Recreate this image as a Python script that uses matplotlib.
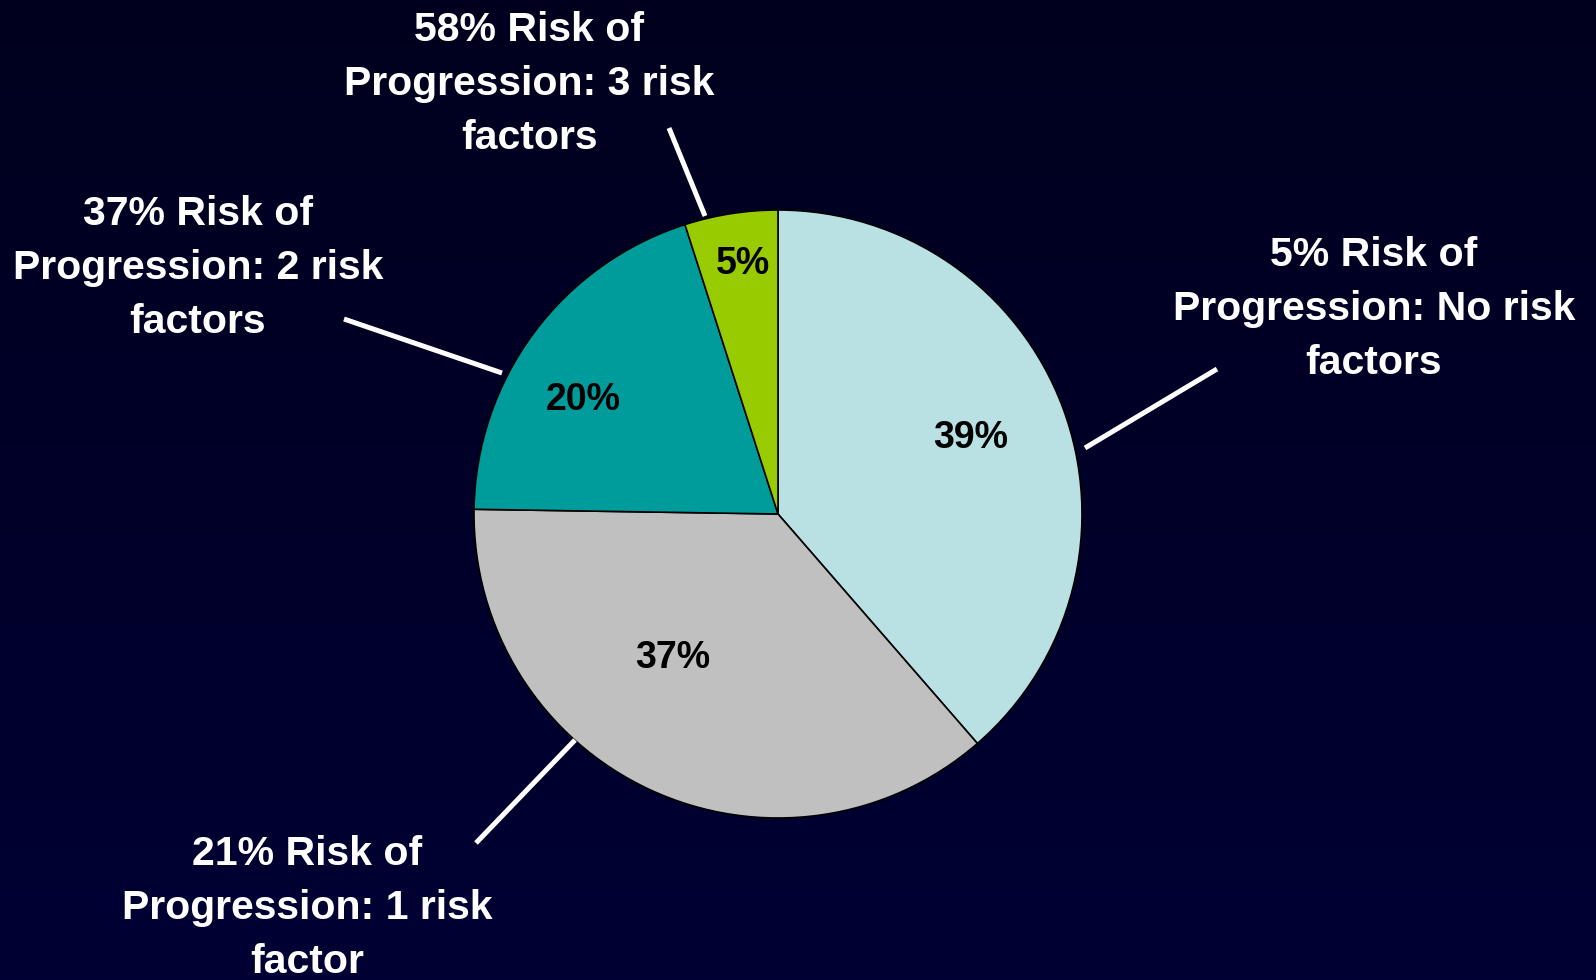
import numpy as np
import matplotlib
matplotlib.use("Agg")
import matplotlib.pyplot as plt
from matplotlib.colors import LinearSegmentedColormap

# Share of patients by number of risk factors
categories = ["No risk factors", "1 risk factor", "2 risk factors", "3 risk factors"]
shares = [39, 37, 20, 5]
slice_colors = ["#B9E0E3", "#C0C0C0", "#009B9B", "#99CC00"]

# Risk of progression for each group
risk_labels = [
    "5% Risk of\nProgression: No risk\nfactors",
    "21% Risk of\nProgression: 1 risk\nfactor",
    "37% Risk of\nProgression: 2 risk\nfactors",
    "58% Risk of\nProgression: 3 risk\nfactors",
]

W, H = 1596, 980
fig = plt.figure(figsize=(W / 100, H / 100), dpi=100)
ax = fig.add_axes([0, 0, 1, 1])

# dark navy backdrop, slightly lighter towards the bottom
bg = LinearSegmentedColormap.from_list("bg", ["#00001E", "#000034"])
grad = np.linspace(0, 1, 256).reshape(-1, 1)
ax.imshow(grad, cmap=bg, extent=[0, W, 0, H], aspect="auto", zorder=0, origin="upper")

cx, cy, R = 778, H - 514, 304
wedges, _ = ax.pie(
    shares, colors=slice_colors, startangle=90, counterclock=False,
    center=(cx, cy), radius=R, frame=True,
    wedgeprops=dict(edgecolor="black", linewidth=1.2),
)
ax.set_xlim(0, W)
ax.set_ylim(0, H)
ax.axis("off")

font = ["Liberation Sans", "DejaVu Sans"]

# percentage labels inside the slices (image-pixel positions)
pct_pos = [(971, 438), (673, 658), (583, 400), (743, 264)]
for v, (x, y) in zip(shares, pct_pos):
    ax.text(x, H - y, f"{v}%", ha="center", va="center", fontsize=27,
            fontweight="bold", color="black", family=font, zorder=5)

# outside captions and their leader lines
cap_pos = [(1374, 309), (307, 908), (198, 268), (529, 84)]
leaders = [
    ((1217, 369), (1085, 448)),
    ((575, 740), (476, 843)),
    ((344, 319), (502, 373)),
    ((669, 128), (705, 216)),
]
for text, (x, y), ((x0, y0), (x1, y1)) in zip(risk_labels, cap_pos, leaders):
    ax.text(x, H - y, text, ha="center", va="center", fontsize=29.5,
            fontweight="bold", color="white", family=font, linespacing=1.53,
            zorder=5)
    ax.plot([x0, x1], [H - y0, H - y1], color="white", linewidth=3.6,
            solid_capstyle="butt", zorder=4)

fig.savefig("out.png", dpi=100, facecolor="#00001E")
